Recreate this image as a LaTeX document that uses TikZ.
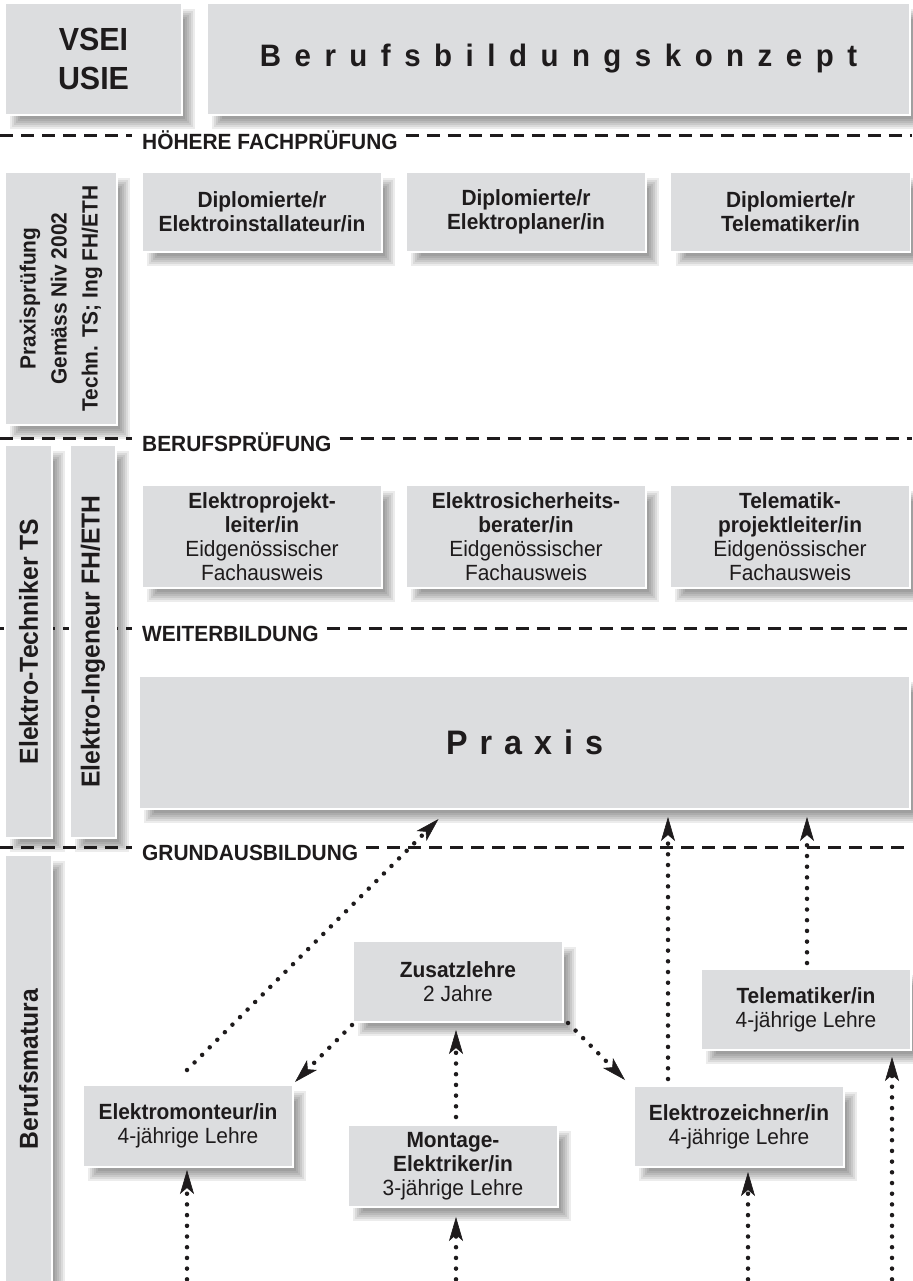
\documentclass[tikz,border=0pt]{standalone}
\usepackage{fontspec}
\setmainfont{Liberation Sans}[FakeStretch=0.95]
\usetikzlibrary{arrows.meta,calc,backgrounds}
\definecolor{boxgray}{RGB}{220,221,223}
\definecolor{txt}{RGB}{30,27,28}

% letter-spaced text
\newcommand\spreadtxt[2]{\def\spreadsep{\kern#1}\spreadA#2\relax}
\def\spreadA#1#2{#1\ifx#2\relax\else\spreadsep\expandafter\spreadA\expandafter#2\fi}

% soft drop shadow: #1 = page top-left anchor, #2 = page bottom-right anchor
\newcommand\boxshadow[2]{%
  \begin{scope}[on background layer]
    \foreach \e in {-4,-2,0,2,4,6}{%
      \fill[black,opacity=0.075] ($(#1)+(9+\e,10+\e)$) rectangle ($(#2)+(9-\e,10-\e)$);
    }
  \end{scope}}

\begin{document}
\begin{tikzpicture}[x=1pt,y=-1pt,
  bx/.style={draw=white, line width=1.2pt, fill=boxgray, inner sep=0pt, outer sep=0pt,
    align=center, text=txt, font=\fontsize{22}{24}\selectfont},
  bxb/.style={bx, font=\bfseries\fontsize{22}{24}\selectfont},
  sect/.style={line width=3pt, dash pattern=on 13pt off 8pt, draw=txt},
  lab/.style={anchor=base west, inner sep=0pt, text=txt, font=\bfseries\fontsize{22}{24}\selectfont},
  arr/.style={draw=txt, line width=4.5pt, line cap=round, dash pattern=on 0pt off 10.7pt,
    -{Stealth[length=24pt,width=14pt,inset=6pt,line width=0.6pt]}},
]
\useasboundingbox (0,0) rectangle (912,1281);
\begin{scope}[on background layer]
  \fill[white] (0,0) rectangle (912,1281);
\end{scope}

% ---------- section separators ----------
\coordinate (s1a) at (0,136);  \coordinate (s1b) at (912,136);
\coordinate (s2a) at (0,438);  \coordinate (s2b) at (912,438);
\coordinate (s3a) at (0,628);  \coordinate (s3b) at (912,628);
\coordinate (s4a) at (0,847);  \coordinate (s4b) at (912,847);
\node[lab] (l1) at (142,149.5) {HÖHERE FACHPRÜFUNG};
\node[lab] (l2) at (142,451.5) {BERUFSPRÜFUNG};
\node[lab] (l3) at (142,641.5) {WEITERBILDUNG};
\node[lab] (l4) at (142,860.5) {GRUNDAUSBILDUNG};
\draw[sect] (s1a) -- ($(l1.west |- s1a)+(-10,0)$);
\draw[sect] ($(l1.east |- s1a)+(8,0)$) -- (s1b);
\draw[sect] (s2a) -- ($(l2.west |- s2a)+(-10,0)$);
\draw[sect] ($(l2.east |- s2a)+(8,0)$) -- (s2b);
\draw[sect] (s3a) -- ($(l3.west |- s3a)+(-10,0)$);
\draw[sect] ($(l3.east |- s3a)+(8,0)$) -- (s3b);
\draw[sect] (s4a) -- ($(l4.west |- s4a)+(-10,0)$);
\draw[sect] ($(l4.east |- s4a)+(8,0)$) -- (s4b);

% ---------- header ----------
\node[bx, minimum width=177, minimum height=112, font=\bfseries\fontsize{32}{39}\selectfont]
  (vsei) at (93.5,59) {VSEI\\USIE};
\node[bx, minimum width=703, minimum height=112, font=\bfseries\fontsize{31}{36}\selectfont]
  (bbk) at (558.5,59) {\spreadtxt{13.5pt}{Berufsbildungskonzept}};
\boxshadow{vsei.north west}{vsei.south east}
\boxshadow{bbk.north west}{bbk.south east}

% ---------- left column ----------
\node[bx, rotate=90, minimum width=253, minimum height=112, font=\bfseries\fontsize{22}{31}\selectfont]
  (pp) at (61,298.5) {Praxisprüfung\\Gemäss Niv 2002\\Techn. TS; Ing FH/ETH};
\node[bx, rotate=90, minimum width=393, minimum height=47, font=\bfseries\fontsize{26}{30}\selectfont]
  (et) at (28.5,641.5) {Elektro-Techniker TS};
\node[bx, rotate=90, minimum width=393, minimum height=46, font=\bfseries\fontsize{26}{30}\selectfont]
  (ei) at (93,641.5) {Elektro-Ingeneur FH/ETH};
\node[bx, rotate=90, minimum width=428, minimum height=47, font=\bfseries\fontsize{26}{30}\selectfont]
  (bm) at (28.5,1069) {Berufsmatura};
\boxshadow{pp.north east}{pp.south west}
\boxshadow{et.north east}{et.south west}
\boxshadow{ei.north east}{ei.south west}
\boxshadow{bm.north east}{bm.south west}

% ---------- höhere fachprüfung ----------
\node[bxb, minimum width=240, minimum height=80] (d1) at (262,212) {Diplomierte/r\\Elektroinstallateur/in};
\node[bxb, minimum width=240, minimum height=80] (d2) at (526,212) {Diplomierte/r\\Elektroplaner/in};
\node[bxb, minimum width=240, minimum height=80] (d3) at (790.5,212) {Diplomierte/r\\Telematiker/in};
\boxshadow{d1.north west}{d1.south east}
\boxshadow{d2.north west}{d2.south east}
\boxshadow{d3.north west}{d3.south east}

% ---------- berufsprüfung ----------
\node[bx, minimum width=240, minimum height=103] (b1) at (262,536.5)
  {\textbf{Elektroprojekt-}\\\textbf{leiter/in}\\Eidgenössischer\\Fachausweis};
\node[bx, minimum width=240, minimum height=103] (b2) at (526,536.5)
  {\textbf{Elektrosicherheits-}\\\textbf{berater/in}\\Eidgenössischer\\Fachausweis};
\node[bx, minimum width=240, minimum height=103] (b3) at (790,536.5)
  {\textbf{Telematik-}\\\textbf{projektleiter/in}\\Eidgenössischer\\Fachausweis};
\boxshadow{b1.north west}{b1.south east}
\boxshadow{b2.north west}{b2.south east}
\boxshadow{b3.north west}{b3.south east}

% ---------- praxis ----------
\node[bx, minimum width=771, minimum height=133, font=\bfseries\fontsize{34}{40}\selectfont]
  (pr) at (524.5,742.5) {\spreadtxt{12pt}{Praxis}};
\boxshadow{pr.north west}{pr.south east}

% ---------- grundausbildung ----------
\node[bx, minimum width=210, minimum height=81] (zl) at (458,981.5) {\textbf{Zusatzlehre}\\2 Jahre};
\node[bx, minimum width=210, minimum height=82] (mo) at (453,1166) {\textbf{Montage-}\\\textbf{Elektriker/in}\\3-jährige Lehre};
\node[bx, minimum width=210, minimum height=82] (em) at (188,1126) {\textbf{Elektromonteur/in}\\4-jährige Lehre};
\node[bx, minimum width=210, minimum height=81] (ez) at (739,1126.5) {\textbf{Elektrozeichner/in}\\4-jährige Lehre};
\node[bx, minimum width=210, minimum height=81] (tm) at (806,1009.5) {\textbf{Telematiker/in}\\4-jährige Lehre};
\boxshadow{zl.north west}{zl.south east}
\boxshadow{mo.north west}{mo.south east}
\boxshadow{em.north west}{em.south east}
\boxshadow{ez.north west}{ez.south east}
\boxshadow{tm.north west}{tm.south east}

% ---------- arrows ----------
\coordinate (f1) at (187,1290);
\coordinate (f2) at (456,1290);
\coordinate (f3) at (748,1290);
\coordinate (f4) at (892,1290);
\coordinate (a7) at ($(ez.north west)+(34,-7)$);
\coordinate (a8) at ($(tm.north)+(1,-6)$);
\draw[arr] ($(em.north)+(-1,-15)$) -- ($(pr.south)+(-86,10)$);
\draw[arr] ($(zl.south west)+(-1,3)$) -- ($(em.north east)+(2,-3)$);
\draw[arr] ($(mo.north)+(3,-8)$) -- ($(zl.south)+(-2,8)$);
\draw[arr] (f2) -- ($(mo.south)+(3,10)$);
\draw[arr] (f1) -- ($(em.south)+(-1,3)$);
\draw[arr] ($(zl.south east)+(5,1)$) -- ($(ez.north west)+(-9,-6)$);
\draw[arr] (a7) -- ($(pr.south -| a7)+(0,8)$);
\draw[arr] (a8) -- ($(pr.south -| a8)+(0,8)$);
\draw[arr] (f3) -- ($(ez.south)+(9,5)$);
\draw[arr] (f4) -- ($(tm.south)+(86,7)$);
\end{tikzpicture}
\end{document}
